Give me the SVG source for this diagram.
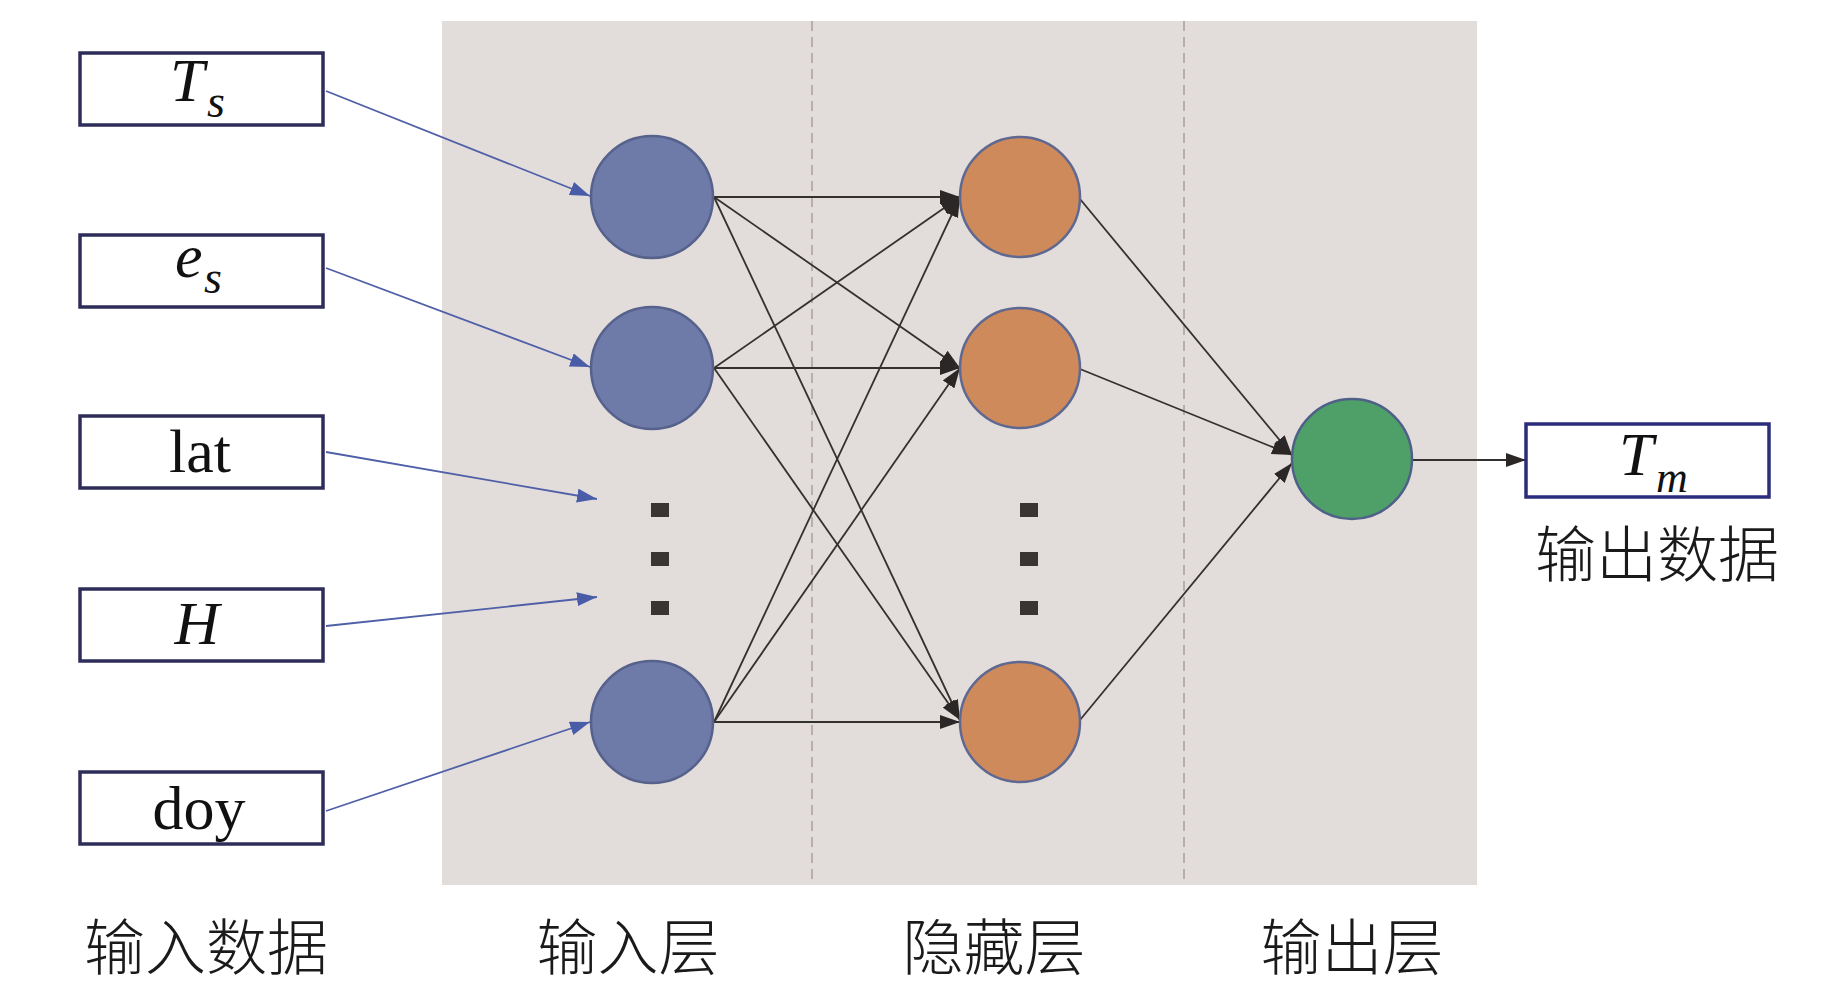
<svg xmlns="http://www.w3.org/2000/svg" width="1843" height="992" viewBox="0 0 1843 992">
<defs>
<style>
.box{fill:#ffffff;stroke:#2e2c58;stroke-width:3.5}
.obox{fill:#ffffff;stroke:#2c2c7c;stroke-width:3.5}
.inc{fill:#6e7aa7;stroke:#56618c;stroke-width:2.5}
.hid{fill:#cf8a5b;stroke:#5f6890;stroke-width:2.5}
.out{fill:#4fa068;stroke:#4f6088;stroke-width:2.5}
.blue{stroke:#5060a8;stroke-width:1.8;fill:none}
.blk{stroke:#333030;stroke-width:1.8;fill:none}
.dot{fill:#3a3532}
.lbl{font-family:"Liberation Serif","Noto Sans CJK SC",serif;fill:#111}
.it{font-style:italic}
.cjk{font-family:"Noto Sans CJK SC","Liberation Serif",sans-serif;font-size:61px;fill:#1a1a1a;text-anchor:middle;font-weight:300}
</style>
<marker id="ab" markerUnits="userSpaceOnUse" markerWidth="20" markerHeight="14" refX="20" refY="7" orient="auto">
<path d="M0,0 L20,7 L0,14 z" fill="#4a5ca8"/>
</marker>
<marker id="ak" markerUnits="userSpaceOnUse" markerWidth="20" markerHeight="14" refX="20" refY="7" orient="auto">
<path d="M0,0 L20,7 L0,14 z" fill="#2a2726"/>
</marker>
</defs>
<rect x="0" y="0" width="1843" height="992" fill="#ffffff"/>
<g id="background">
<rect x="442" y="21" width="1035" height="864" fill="#e2ddda"/>
<line x1="812" y1="21" x2="812" y2="885" stroke="#a8a09d" stroke-width="1.5" stroke-dasharray="10,6"/>
<line x1="1184" y1="21" x2="1184" y2="885" stroke="#a8a09d" stroke-width="1.5" stroke-dasharray="10,6"/>
</g>
<g id="connectors">
<line class="blue" x1="326" y1="91" x2="590" y2="196" marker-end="url(#ab)"/>
<line class="blue" x1="326" y1="268" x2="590" y2="367" marker-end="url(#ab)"/>
<line class="blue" x1="326" y1="452" x2="597" y2="499" marker-end="url(#ab)"/>
<line class="blue" x1="326" y1="626" x2="597" y2="597" marker-end="url(#ab)"/>
<line class="blue" x1="326" y1="811" x2="590" y2="722" marker-end="url(#ab)"/>
<line class="blk" x1="714" y1="197" x2="960" y2="197" marker-end="url(#ak)"/>
<line class="blk" x1="714" y1="197" x2="960" y2="368" marker-end="url(#ak)"/>
<line class="blk" x1="714" y1="197" x2="960" y2="720" marker-end="url(#ak)"/>
<line class="blk" x1="714" y1="368" x2="960" y2="197" marker-end="url(#ak)"/>
<line class="blk" x1="714" y1="368" x2="960" y2="368" marker-end="url(#ak)"/>
<line class="blk" x1="714" y1="368" x2="960" y2="720" marker-end="url(#ak)"/>
<line class="blk" x1="714" y1="722" x2="960" y2="197" marker-end="url(#ak)"/>
<line class="blk" x1="714" y1="722" x2="960" y2="368" marker-end="url(#ak)"/>
<line class="blk" x1="714" y1="722" x2="960" y2="722" marker-end="url(#ak)"/>
<line class="blk" x1="1080" y1="199" x2="1292" y2="455" marker-end="url(#ak)"/>
<line class="blk" x1="1080" y1="369" x2="1292" y2="455" marker-end="url(#ak)"/>
<line class="blk" x1="1080" y1="720" x2="1292" y2="463" marker-end="url(#ak)"/>
<line class="blk" x1="1412" y1="460" x2="1526" y2="460" marker-end="url(#ak)"/>
</g>
<g id="in-Ts">
<rect class="box" x="80" y="53" width="243" height="72"/>
<text class="lbl it" font-size="62" x="170" y="101">T<tspan font-size="46" x="207" y="117">s</tspan></text>
</g>
<g id="in-es">
<rect class="box" x="80" y="235" width="243" height="72"/>
<text class="lbl it" font-size="62" x="175" y="277">e<tspan font-size="46" x="204" y="293">s</tspan></text>
</g>
<g id="in-lat">
<rect class="box" x="80" y="416" width="243" height="72"/>
<text class="lbl" font-size="62" x="200" y="472" text-anchor="middle">lat</text>
</g>
<g id="in-H">
<rect class="box" x="80" y="589" width="243" height="72"/>
<text class="lbl it" font-size="62" x="197" y="644" text-anchor="middle">H</text>
</g>
<g id="in-doy">
<rect class="box" x="80" y="772" width="243" height="72"/>
<text class="lbl" font-size="62" x="199" y="829" text-anchor="middle">doy</text>
</g>
<g id="input-layer">
<circle class="inc" cx="652" cy="197" r="61"/>
<circle class="inc" cx="652" cy="368" r="61"/>
<circle class="inc" cx="652" cy="722" r="61"/>
<rect class="dot" x="651" y="503" width="18" height="14"/>
<rect class="dot" x="651" y="552" width="18" height="14"/>
<rect class="dot" x="651" y="601" width="18" height="14"/>
</g>
<g id="hidden-layer">
<circle class="hid" cx="1020" cy="197" r="60"/>
<circle class="hid" cx="1020" cy="368" r="60"/>
<circle class="hid" cx="1020" cy="722" r="60"/>
<rect class="dot" x="1020" y="503" width="18" height="14"/>
<rect class="dot" x="1020" y="552" width="18" height="14"/>
<rect class="dot" x="1020" y="601" width="18" height="14"/>
</g>
<g id="output-layer">
<circle class="out" cx="1352" cy="459" r="60"/>
</g>
<g id="out-Tm">
<rect class="obox" x="1526" y="424" width="243" height="73"/>
<text class="lbl it" font-size="62" x="1619" y="475">T<tspan font-size="44" x="1656" y="492">m</tspan></text>
</g>
<g id="labels">
<text class="cjk" x="1657" y="577">输出数据</text>
<text class="cjk" x="206" y="970">输入数据</text>
<text class="cjk" x="628" y="970">输入层</text>
<text class="cjk" x="994" y="970">隐藏层</text>
<text class="cjk" x="1352" y="970">输出层</text>
</g>
</svg>
